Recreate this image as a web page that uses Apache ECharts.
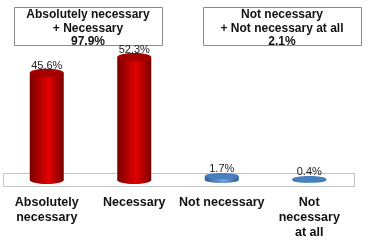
<!DOCTYPE html>
<html><head><meta charset="utf-8">
<script src="https://cdn.jsdelivr.net/npm/echarts@6/dist/echarts.min.js"></script>
<style>html,body{margin:0;padding:0;background:#fff}#c{width:367px;height:244px}</style>
</head><body><div id="c"></div>
<script>
const categories = ['Absolutely\nnecessary', 'Necessary', 'Not necessary', 'Not\nnecessary\nat all'];
const values = [45.6, 52.3, 1.7, 0.4];
const valueLabels = ['45.6%', '52.3%', '1.7%', '0.4%'];
const groupLeft = ['Absolutely necessary', '+ Necessary', '97.9%'];
const groupRight = ['Not necessary', '+ Not necessary at all', '2.1%'];

const chart = echarts.init(document.getElementById('c'), null, {renderer: 'canvas'});
const red = {dark: '#7a0000', mid: '#e30000', top: '#a30000'};
const blue = {dark: '#2f5f95', mid: '#6fa3dd', top: '#4a7fbf'};

function renderItem(params, api) {
  const i = api.value(0), v = api.value(1);
  const top = api.coord([i, v]);
  const bot = api.coord([i, 0]);
  const w = 34, rx = w / 2;
  const isRed = v > 10;
  const c = isRed ? red : blue;
  const ry = isRed ? 4 : 3;
  const grad = new echarts.graphic.LinearGradient(0, 0, 1, 0, [
    {offset: 0, color: c.dark}, {offset: 0.55, color: c.mid}, {offset: 1, color: c.dark}
  ]);
  return {
    type: 'group',
    children: [
      {type: 'ellipse', shape: {cx: bot[0], cy: bot[1], rx: rx, ry: ry}, style: {fill: grad}},
      {type: 'rect', shape: {x: bot[0] - rx, y: top[1], width: w, height: bot[1] - top[1]}, style: {fill: grad}},
      {type: 'ellipse', shape: {cx: top[0], cy: top[1], rx: rx, ry: ry}, style: {fill: c.top}},
      {type: 'text', z2: 10, style: {x: top[0], y: top[1] - 1.5, text: valueLabels[i], fill: '#222', font: '11px "Liberation Sans", Arial', align: 'center', verticalAlign: 'bottom'}}
    ]
  };
}

chart.setOption({
  animation: false,
  grid: {left: 3, right: 14, top: 39, bottom: 64},
  xAxis: {
    type: 'category', data: categories,
    axisLine: {show: false}, axisTick: {show: false},
    axisLabel: {interval: 0, margin: 15, color: '#111', fontWeight: 'bold', fontSize: 12.5, lineHeight: 15, fontFamily: '"Liberation Sans", Arial'}
  },
  yAxis: {type: 'value', min: 0, max: 60, show: false, splitLine: {show: false}},
  graphic: [
    {type: 'rect', z: 0, shape: {x: 3.5, y: 173.5, width: 351, height: 13}, style: {fill: '#fff', stroke: '#c4c4c4', lineWidth: 1}},
    {type: 'rect', shape: {x: 14.5, y: 7.5, width: 148, height: 38}, style: {fill: '#fff', stroke: '#8a8a8a', lineWidth: 1}},
    {type: 'text', style: {x: 88, y: 8, text: groupLeft.join('\n'), font: 'bold 12px "Liberation Sans", Arial', lineHeight: 13.5, align: 'center', fill: '#111'}},
    {type: 'rect', shape: {x: 203.5, y: 7.5, width: 158, height: 38}, style: {fill: '#fff', stroke: '#8a8a8a', lineWidth: 1}},
    {type: 'text', style: {x: 282, y: 8, text: groupRight.join('\n'), font: 'bold 12px "Liberation Sans", Arial', lineHeight: 13.5, align: 'center', fill: '#111'}}
  ],
  series: [{
    type: 'custom', renderItem: renderItem, z: 5,
    data: values.map((v, i) => [i, v])
  }]
});
</script></body></html>
